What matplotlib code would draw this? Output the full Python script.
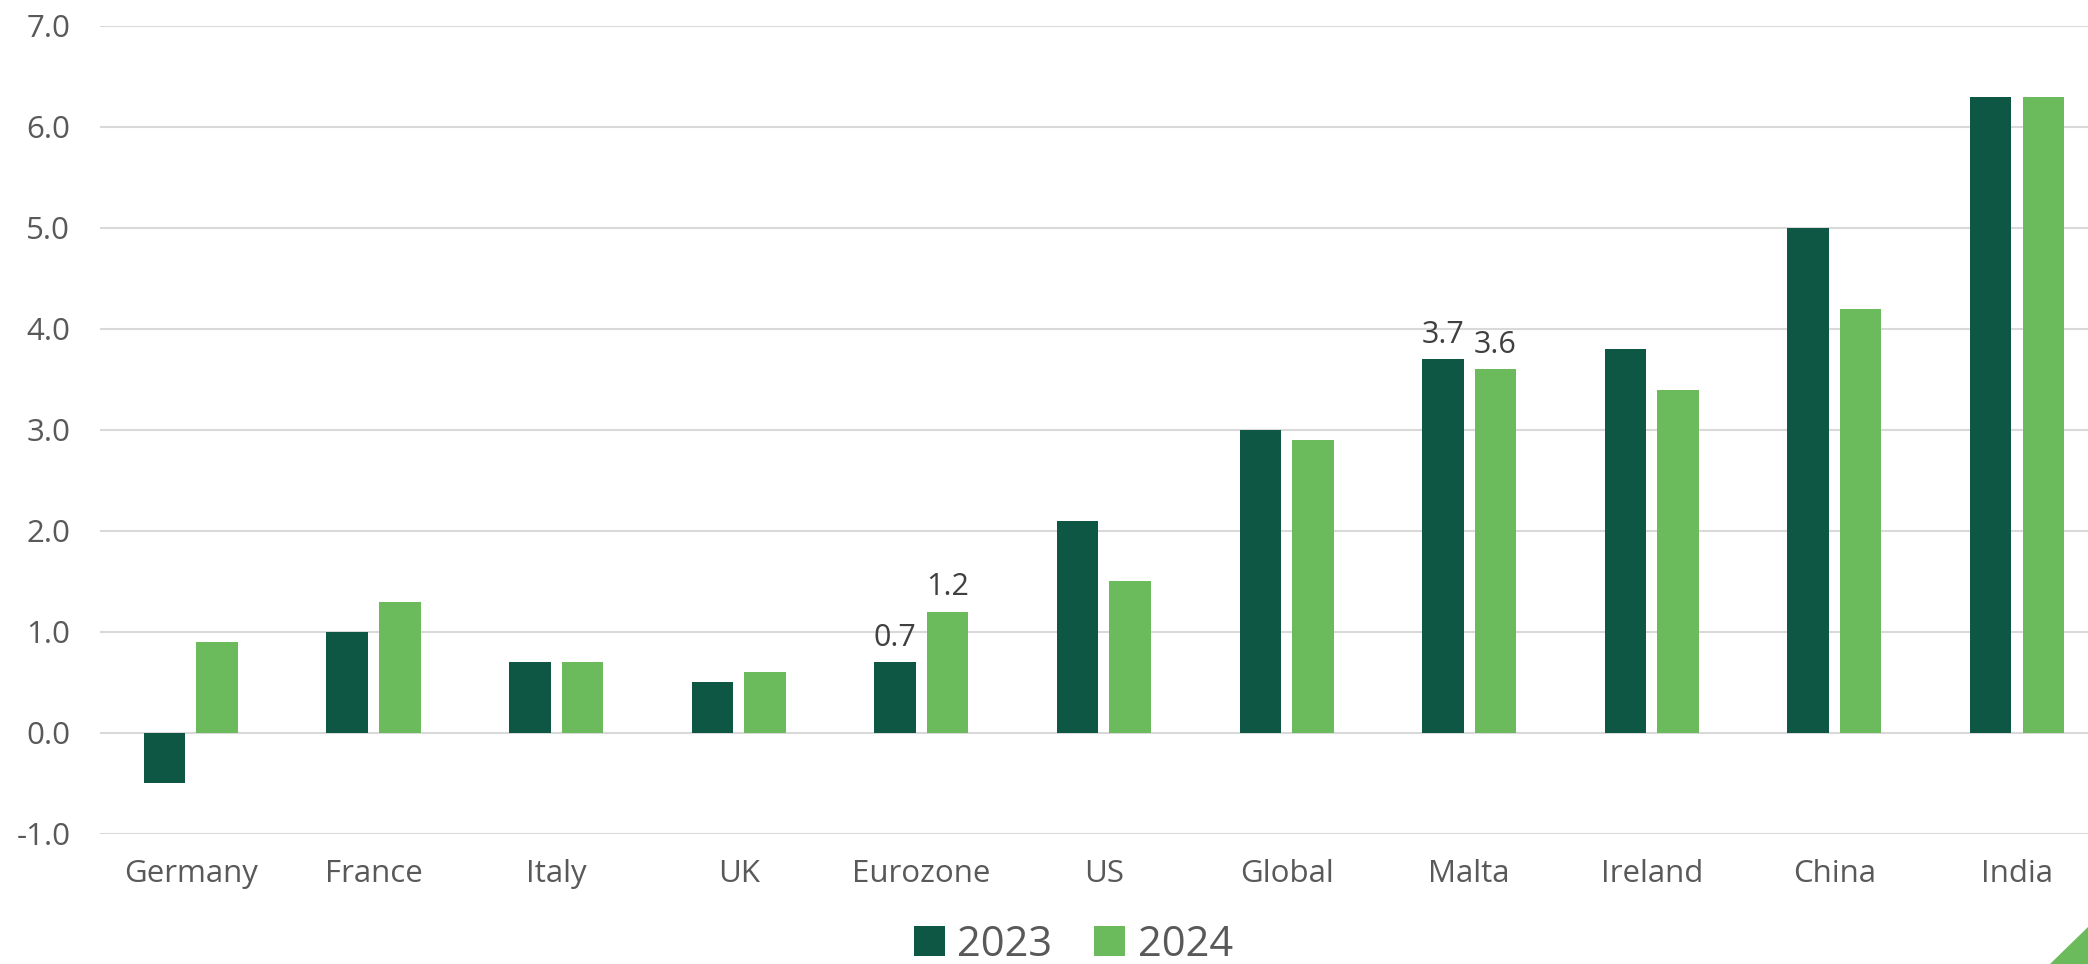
import matplotlib.pyplot as plt
import numpy as np
from matplotlib.patches import Polygon

plt.rcParams['font.family'] = ['Open Sans', 'DejaVu Sans']

countries = ['Germany', 'France', 'Italy', 'UK', 'Eurozone', 'US',
             'Global', 'Malta', 'Ireland', 'China', 'India']
growth_2023 = [-0.5, 1.0, 0.7, 0.5, 0.7, 2.1, 3.0, 3.7, 3.8, 5.0, 6.3]
growth_2024 = [0.9, 1.3, 0.7, 0.6, 1.2, 1.5, 2.9, 3.6, 3.4, 4.2, 6.3]
# only some bars carry a value label in the original
labelled_2023 = ['Eurozone', 'Malta']
labelled_2024 = ['Eurozone', 'Malta']

dark = '#0f5745'
light = '#6bba5b'
text_col = '#595959'
grid_col = '#d9d9d9'

fig = plt.figure(figsize=(20.88, 9.64), dpi=100)
ax = fig.add_axes([0.0477, 0.1349, 0.962, 0.8382])

x = np.arange(len(countries))
width = 0.227
offset = 0.144

bars1 = ax.bar(x - offset, growth_2023, width, color=dark, label='2023', zorder=3)
bars2 = ax.bar(x + offset, growth_2024, width, color=light, label='2024', zorder=3)

for bars, vals, labelled in [(bars1, growth_2023, labelled_2023),
                             (bars2, growth_2024, labelled_2024)]:
    for b, v, c in zip(bars, vals, countries):
        if c in labelled:
            ax.annotate(f'{v:.1f}', (b.get_x() + b.get_width() / 2, v),
                        xytext=(0, 7), textcoords='offset points',
                        ha='center', va='bottom', fontsize=22, color='#404040')

ax.set_xlim(-0.5, len(countries) - 0.5)
ax.set_ylim(-1.0, 7.0)
ax.set_yticks(np.arange(-1, 8, 1))
ax.set_yticklabels([f'{t:.1f}' for t in np.arange(-1, 8, 1)])
ax.set_xticks(x)
ax.set_xticklabels(countries)
ax.tick_params(axis='both', length=0, labelsize=22.5, labelcolor=text_col)
ax.tick_params(axis='y', pad=21)
ax.tick_params(axis='x', pad=18)
ax.yaxis.grid(True, color=grid_col, linewidth=1.5, zorder=0)
ax.set_axisbelow(True)
for s in ax.spines.values():
    s.set_visible(False)

fig.legend(loc='center', bbox_to_anchor=(0.514, 0.02), ncol=2, frameon=False,
           fontsize=30, labelcolor=text_col, handlelength=0.75, handleheight=0.75,
           handletextpad=0.3, columnspacing=1.0)

# green corner triangle
fig.patches.append(Polygon([[2050 / 2088, 0], [1, 0], [1, 37 / 964]],
                           closed=True, transform=fig.transFigure,
                           color=light, figure=fig))

plt.savefig('out.png', dpi=100)
